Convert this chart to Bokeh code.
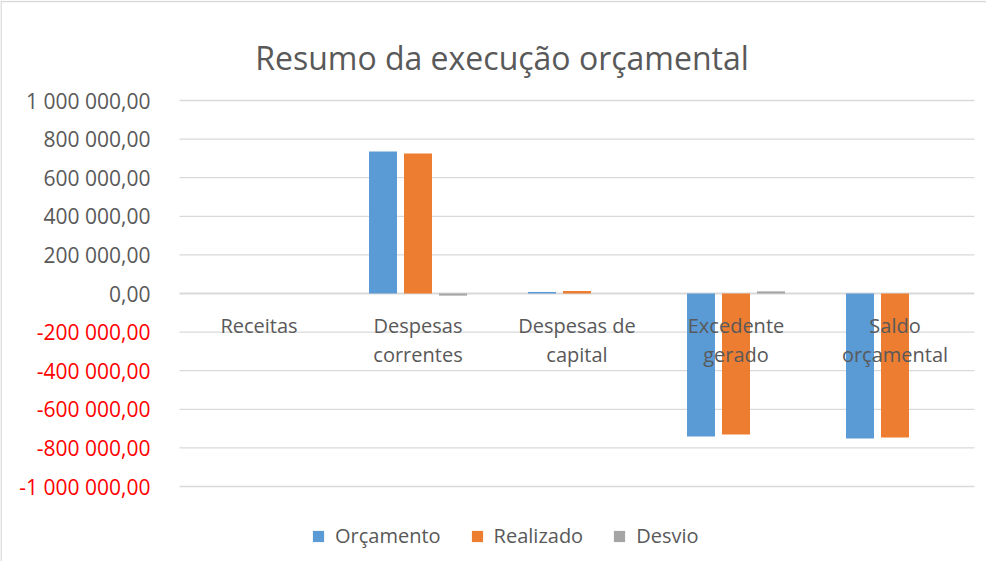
from bokeh.plotting import figure
from bokeh.models import ColumnDataSource, Range1d, Span
from bokeh.core.properties import value
from bokeh.embed import file_html
from bokeh.resources import INLINE

# ---------------- data ----------------
categories = ["Receitas", "Despesas correntes", "Despesas de capital",
              "Excedente gerado", "Saldo orçamental"]
category_lines = [["Receitas"], ["Despesas", "correntes"], ["Despesas de", "capital"],
                  ["Excedente", "gerado"], ["Saldo", "orçamental"]]
series_names = ["Orçamento", "Realizado", "Desvio"]
orcamento = [0, 736000, 8000, -741000, -751000]
realizado = [0, 725000, 13000, -730000, -746000]
desvio = [0, -11000, 0, 11000, 0]
tick_values = [1000000, 800000, 600000, 400000, 200000, 0,
               -200000, -400000, -600000, -800000, -1000000]
tick_labels = ["1 000 000,00", "800 000,00", "600 000,00", "400 000,00", "200 000,00", "0,00",
               "-200 000,00", "-400 000,00", "-600 000,00", "-800 000,00", "-1 000 000,00"]
title_text = "Resumo da execução orçamental"

# ---------------- layout helpers (canvas pixels -> data) ----------------
W, H = 986, 561
CAT_X0 = 179.0      # canvas x of category axis start
CAT_STEP = 159.0    # canvas px per category
ZERO_Y = 293.0      # canvas y of value 0
PX_PER_UNIT = 193.0 / 1e6

def dx(px):
    return (px - CAT_X0) / CAT_STEP

def dy(py):
    return (ZERO_Y - py) / PX_PER_UNIT

FONT = "Open Sans"
TXT = "#595959"
GRID = "#D9D9D9"
colors = ["#5B9BD5", "#ED7D31", "#A5A5A5"]

p = figure(width=W, height=H, output_backend="svg", toolbar_location=None,
           x_range=Range1d(dx(0), dx(W)), y_range=Range1d(dy(H), dy(0)),
           x_axis_location=None, y_axis_location=None, min_border=0,
           background_fill_color="white", border_fill_color="white")
p.xgrid.visible = False
p.ygrid.visible = False
p.outline_line_color = None

# border (left and top, chart continues beyond the window)
p.add_layout(Span(location=dx(0.5), dimension="height", line_color=GRID, line_width=1.5))
p.add_layout(Span(location=dy(1.0), dimension="width", line_color=GRID, line_width=1.5))

# gridlines
n = len(categories)
grid_w = [2.0 if v == 0 else 1.3 for v in tick_values]
p.segment(x0=[0] * len(tick_values), x1=[n] * len(tick_values),
          y0=tick_values, y1=tick_values, line_color=GRID, line_width=grid_w)

# tick labels (negative in red)
tick_colors = ["#FF0000" if v < 0 else TXT for v in tick_values]
p.text(x=[dx(150)] * len(tick_values), y=tick_values, text=tick_labels,
       text_color=tick_colors, text_font=value(FONT), text_font_size="21px",
       text_align="right", text_baseline="middle")

# bars
bar_w = 28.0 / CAT_STEP
offs = [-35.0 / CAT_STEP, 0.0, 35.0 / CAT_STEP]
for vals, name, col, off in zip([orcamento, realizado, desvio], series_names, colors, offs):
    src = ColumnDataSource(dict(x=[i + 0.5 + off for i in range(n)], top=vals))
    p.vbar(x="x", top="top", bottom=0, width=bar_w, source=src,
           fill_color=col, line_color=None, legend_label=name)

# category labels (drawn next to the zero line)
lx, ly, lt = [], [], []
for i, lines in enumerate(category_lines):
    for j, t in enumerate(lines):
        lx.append(i + 0.5)
        ly.append(dy(325 + 29 * j))
        lt.append(t)
p.text(x=lx, y=ly, text=lt, text_color=TXT, text_font=value(FONT),
       text_font_size="20px", text_align="center", text_baseline="middle")

# title
p.text(x=[dx(501.5)], y=[dy(57)], text=[title_text], text_color=TXT,
       text_font=value(FONT), text_font_size="32px", text_align="center",
       text_baseline="alphabetic")

# legend
lg = p.legend[0]
lg.orientation = "horizontal"
lg.location = (311, 12)
lg.glyph_width = 14
lg.glyph_height = 14
lg.label_standoff = 10
lg.spacing = 29
lg.padding = 0
lg.margin = 0
lg.border_line_color = None
lg.background_fill_alpha = 0
lg.label_text_font = FONT
lg.label_text_font_size = "20px"
lg.label_text_color = TXT
lg.label_height = 20

open("out.html", "w").write(file_html(p, INLINE))
